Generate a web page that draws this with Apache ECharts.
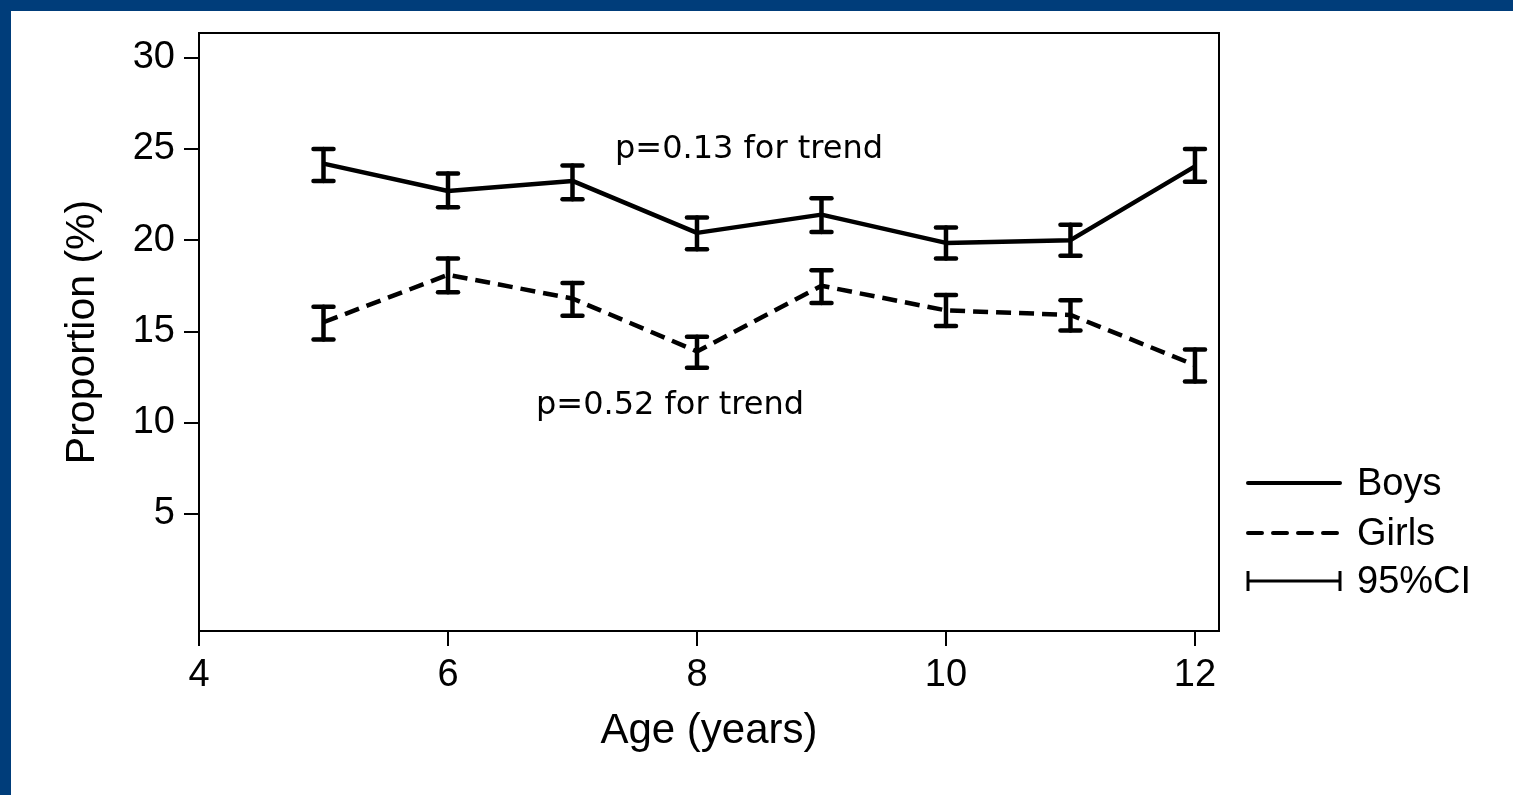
<!DOCTYPE html>
<html>
<head>
<meta charset="utf-8">
<script src="https://cdn.jsdelivr.net/npm/echarts@6/dist/echarts.min.js"></script>
<style>
html,body{margin:0;padding:0;background:#fff;}
#chart{width:1513px;height:795px;}
</style>
</head>
<body>
<div id="chart"></div>
<script>
// Data
const ages = [5, 6, 7, 8, 9, 10, 11, 12];
const boysMean = [24.2, 22.7, 23.25, 20.4, 21.4, 19.85, 20.0, 24.05];
const boysLow  = [23.25, 21.8, 22.25, 19.5, 20.45, 19.0, 19.15, 23.2];
const boysHigh = [25.0, 23.65, 24.1, 21.25, 22.3, 20.7, 20.85, 25.0];
const girlsMean = [15.5, 18.1, 16.8, 13.9, 17.5, 16.15, 15.9, 13.15];
const girlsLow  = [14.55, 17.15, 15.85, 13.0, 16.55, 15.3, 15.05, 12.25];
const girlsHigh = [16.35, 19.0, 17.65, 14.7, 18.35, 17.0, 16.7, 14.0];
const xTicks = [4, 6, 8, 10, 12];
const yTicks = [5, 10, 15, 20, 25, 30];
const legendLabels = ['Boys', 'Girls', '95%CI'];
const annotations = ['p=0.13 for trend', 'p=0.52 for trend'];

const chart = echarts.init(document.getElementById('chart'));
const FONT = '"Liberation Sans", Arial, sans-serif';
const AFONT = '"DejaVu Sans", Verdana, sans-serif';

function ciData(low, high) {
  return ages.map((a, i) => [a, low[i], high[i]]);
}
function ciRender(params, api) {
  const x = api.value(0);
  const lo = api.coord([x, api.value(1)]);
  const hi = api.coord([x, api.value(2)]);
  const hw = 10;
  const st = { stroke: '#000', lineWidth: 4.5, lineCap: 'round' };
  return {
    type: 'group',
    children: [
      { type: 'line', shape: { x1: lo[0], y1: lo[1], x2: hi[0], y2: hi[1] }, style: st },
      { type: 'line', shape: { x1: lo[0] - hw, y1: lo[1], x2: lo[0] + hw, y2: lo[1] }, style: st },
      { type: 'line', shape: { x1: hi[0] - hw, y1: hi[1], x2: hi[0] + hw, y2: hi[1] }, style: st }
    ]
  };
}

const blue = '#003d7a';
const lgX = 1248, lgW = 92, lgTextX = 1357;
const lgY = [483, 533, 581];

chart.setOption({
  animation: false,
  backgroundColor: '#fff',
  grid: {
    left: 199, top: 33, width: 1020, height: 598,
    show: true, borderColor: '#000', borderWidth: 2, backgroundColor: 'transparent'
  },
  xAxis: {
    type: 'value', min: 4, max: 12.193,
    name: 'Age (years)', nameLocation: 'middle', nameGap: 79,
    nameTextStyle: { fontFamily: FONT, fontSize: 42, color: '#000' },
    axisLine: { show: true, onZero: false, lineStyle: { color: '#000', width: 2 } },
    axisTick: { show: true, length: 15, customValues: xTicks, lineStyle: { color: '#000', width: 2 } },
    axisLabel: { customValues: xTicks, fontFamily: FONT, fontSize: 38, color: '#000', margin: 26 },
    splitLine: { show: false }
  },
  yAxis: {
    type: 'value', min: -1.43, max: 31.36,
    name: 'Proportion (%)', nameLocation: 'middle', nameGap: 96, nameRotate: 90,
    nameTextStyle: { fontFamily: FONT, fontSize: 41, color: '#000' },
    axisLine: { show: true, onZero: false, lineStyle: { color: '#000', width: 2 } },
    axisTick: { show: true, length: 15, customValues: yTicks, lineStyle: { color: '#000', width: 2 } },
    axisLabel: { customValues: yTicks, fontFamily: FONT, fontSize: 38, color: '#000', margin: 24, padding: [5, 0, 0, 0] },
    splitLine: { show: false }
  },
  series: [
    {
      name: 'Boys', type: 'line', data: ages.map((a, i) => [a, boysMean[i]]),
      symbol: 'none', lineStyle: { color: '#000', width: 4.5 }, z: 3
    },
    {
      name: 'Girls', type: 'line', data: ages.map((a, i) => [a, girlsMean[i]]),
      symbol: 'none', lineStyle: { color: '#000', width: 4.5, type: [15, 8] }, z: 3
    },
    { name: 'BoysCI', type: 'custom', data: ciData(boysLow, boysHigh), renderItem: ciRender, z: 4 },
    { name: 'GirlsCI', type: 'custom', data: ciData(girlsLow, girlsHigh), renderItem: ciRender, z: 4 }
  ],
  graphic: [
    { type: 'rect', left: 0, top: 0, shape: { width: 1513, height: 11 }, style: { fill: blue }, z: 100 },
    { type: 'rect', left: 0, top: 0, shape: { width: 11, height: 795 }, style: { fill: blue }, z: 100 },
    { type: 'text', left: 615, top: 134, style: { text: annotations[0], font: '32px ' + AFONT, fill: '#000' } },
    { type: 'text', left: 536, top: 390, style: { text: annotations[1], font: '32px ' + AFONT, fill: '#000' } },
    { type: 'line', shape: { x1: lgX, y1: lgY[0], x2: lgX + lgW, y2: lgY[0] }, style: { stroke: '#000', lineWidth: 4, lineCap: 'round' } },
    { type: 'line', shape: { x1: lgX, y1: lgY[1], x2: lgX + lgW, y2: lgY[1] }, style: { stroke: '#000', lineWidth: 4, lineCap: 'round', lineDash: [14, 11] } },
    { type: 'line', shape: { x1: lgX, y1: lgY[2], x2: lgX + lgW, y2: lgY[2] }, style: { stroke: '#000', lineWidth: 3 } },
    { type: 'line', shape: { x1: lgX, y1: lgY[2] - 10, x2: lgX, y2: lgY[2] + 10 }, style: { stroke: '#000', lineWidth: 3 } },
    { type: 'line', shape: { x1: lgX + lgW, y1: lgY[2] - 10, x2: lgX + lgW, y2: lgY[2] + 10 }, style: { stroke: '#000', lineWidth: 3 } },
    { type: 'text', left: lgTextX, top: lgY[0] - 17, style: { text: legendLabels[0], font: '38px ' + FONT, fill: '#000' } },
    { type: 'text', left: lgTextX, top: lgY[1] - 17, style: { text: legendLabels[1], font: '38px ' + FONT, fill: '#000' } },
    { type: 'text', left: lgTextX, top: lgY[2] - 17, style: { text: legendLabels[2], font: '38px ' + FONT, fill: '#000' } }
  ]
});
</script>
</body>
</html>
